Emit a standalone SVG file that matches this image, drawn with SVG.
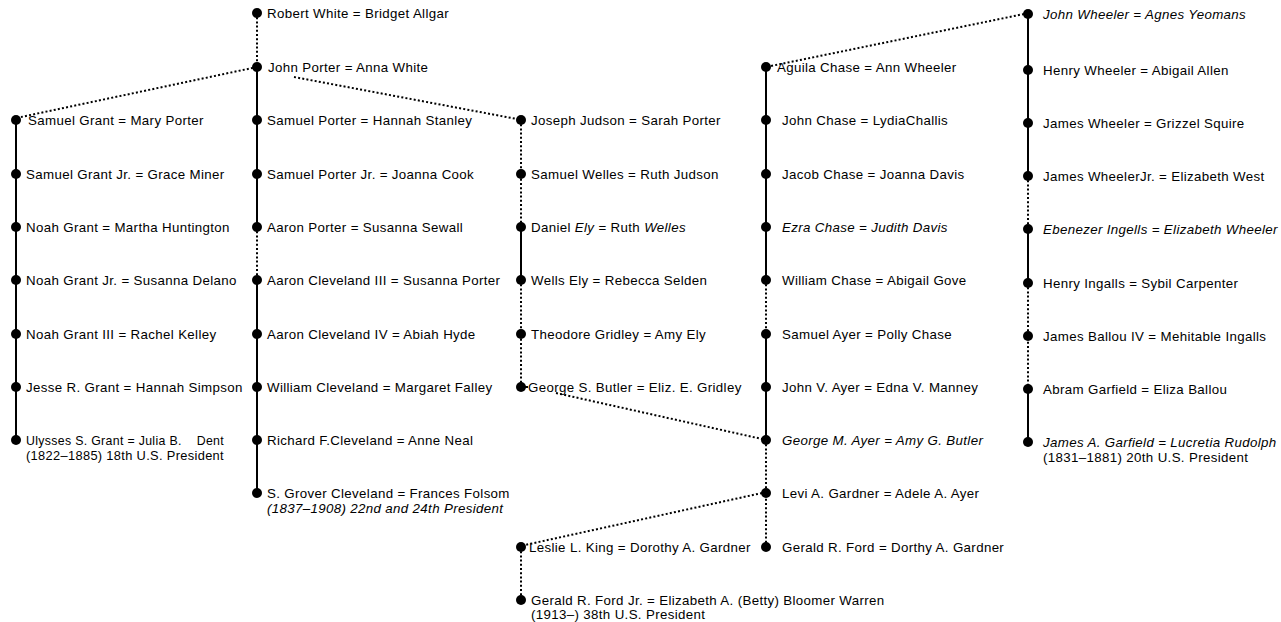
<svg xmlns="http://www.w3.org/2000/svg" width="1281" height="622" viewBox="0 0 1281 622">
  <defs>
    <style>
      .bg { fill: #ffffff; }
      text { font-family: "Liberation Sans", Arial, sans-serif; font-size: 13.3px; fill: #000; letter-spacing: 0.35px; }
      .it { font-style: italic; }
      .dot { fill: #000; }
      .solid { stroke: #000; stroke-width: 2; fill: none; }
      .dotted { stroke: #000; stroke-width: 2; stroke-dasharray: 2 2.2; fill: none; }
    </style>
  </defs>
  <rect class="bg" x="0" y="0" width="1281" height="622"/>

  <!-- connectors: solid = direct line, dotted = link through a daughter -->
  <g id="connectors">
    <!-- Grant line -->
    <line class="solid" x1="16" y1="120" x2="16" y2="440"/>
    <!-- White / Porter / Cleveland line -->
    <line class="dotted" x1="257" y1="13" x2="257" y2="67"/>
    <line class="solid" x1="257" y1="67" x2="257" y2="227"/>
    <line class="dotted" x1="257" y1="227" x2="257" y2="280"/>
    <line class="solid" x1="257" y1="280" x2="257" y2="493"/>
    <!-- Judson / Welles / Ely / Gridley / Butler line -->
    <line class="dotted" x1="521" y1="120" x2="521" y2="227"/>
    <line class="solid" x1="521" y1="227" x2="521" y2="280"/>
    <line class="dotted" x1="521" y1="280" x2="521" y2="387"/>
    <!-- Chase / Ayer / Gardner line -->
    <line class="solid" x1="766" y1="67" x2="766" y2="280"/>
    <line class="dotted" x1="766" y1="280" x2="766" y2="334"/>
    <line class="solid" x1="766" y1="334" x2="766" y2="440"/>
    <line class="dotted" x1="766" y1="440" x2="766" y2="547"/>
    <!-- Wheeler / Ingalls / Ballou / Garfield line -->
    <line class="solid" x1="1028" y1="14" x2="1028" y2="176"/>
    <line class="dotted" x1="1028" y1="176" x2="1028" y2="229"/>
    <line class="solid" x1="1028" y1="229" x2="1028" y2="283"/>
    <line class="dotted" x1="1028" y1="283" x2="1028" y2="389"/>
    <line class="solid" x1="1028" y1="389" x2="1028" y2="442"/>
    <!-- King / Ford line -->
    <line class="dotted" x1="521" y1="547" x2="521" y2="600"/>
    <!-- cross links -->
    <line class="dotted" x1="257" y1="67" x2="21" y2="117"/>
    <line class="dotted" x1="294" y1="77" x2="517" y2="119"/>
    <line class="dotted" x1="556" y1="393" x2="762" y2="439"/>
    <line class="dotted" x1="1024" y1="14" x2="771" y2="66"/>
    <line class="dotted" x1="762" y1="493" x2="525" y2="545"/>
  </g>

  <!-- Grant -->
  <g id="n-samuel-grant"><circle class="dot" cx="16" cy="120" r="5"/><text x="28" y="124.5">Samuel Grant = Mary Porter</text></g>
  <g id="n-samuel-grant-jr"><circle class="dot" cx="16" cy="174" r="5"/><text x="26" y="178.5">Samuel Grant Jr. = Grace Miner</text></g>
  <g id="n-noah-grant"><circle class="dot" cx="16" cy="227" r="5"/><text x="26" y="231.5">Noah Grant = Martha Huntington</text></g>
  <g id="n-noah-grant-jr"><circle class="dot" cx="16" cy="280" r="5"/><text x="26" y="284.5">Noah Grant Jr. = Susanna Delano</text></g>
  <g id="n-noah-grant-iii"><circle class="dot" cx="16" cy="334" r="5"/><text x="26" y="338.5">Noah Grant III = Rachel Kelley</text></g>
  <g id="n-jesse-grant"><circle class="dot" cx="16" cy="387" r="5"/><text x="26" y="391.5">Jesse R. Grant = Hannah Simpson</text></g>
  <g id="n-ulysses-grant"><circle class="dot" cx="16" cy="440" r="5"/><text x="26" y="444.5" xml:space="preserve" textLength="198" lengthAdjust="spacingAndGlyphs">Ulysses S. Grant = Julia B.    Dent</text><text x="26" y="459.5" textLength="198" lengthAdjust="spacingAndGlyphs">(1822–1885) 18th U.S. President</text></g>

  <!-- White / Porter / Cleveland -->
  <g id="n-robert-white"><circle class="dot" cx="257" cy="13" r="5"/><text x="267" y="17.5">Robert White = Bridget Allgar</text></g>
  <g id="n-john-porter"><circle class="dot" cx="257" cy="67" r="5"/><text x="268" y="71.5">John Porter = Anna White</text></g>
  <g id="n-samuel-porter"><circle class="dot" cx="257" cy="120" r="5"/><text x="267" y="124.5">Samuel Porter = Hannah Stanley</text></g>
  <g id="n-samuel-porter-jr"><circle class="dot" cx="257" cy="174" r="5"/><text x="267" y="178.5">Samuel Porter Jr. = Joanna Cook</text></g>
  <g id="n-aaron-porter"><circle class="dot" cx="257" cy="227" r="5"/><text x="267" y="231.5">Aaron Porter = Susanna Sewall</text></g>
  <g id="n-aaron-cleveland-iii"><circle class="dot" cx="257" cy="280" r="5"/><text x="267" y="284.5">Aaron Cleveland III = Susanna Porter</text></g>
  <g id="n-aaron-cleveland-iv"><circle class="dot" cx="257" cy="334" r="5"/><text x="267" y="338.5">Aaron Cleveland IV = Abiah Hyde</text></g>
  <g id="n-william-cleveland"><circle class="dot" cx="257" cy="387" r="5"/><text x="267" y="391.5">William Cleveland = Margaret Falley</text></g>
  <g id="n-richard-cleveland"><circle class="dot" cx="257" cy="440" r="5"/><text x="267" y="444.5">Richard F.Cleveland = Anne Neal</text></g>
  <g id="n-grover-cleveland"><circle class="dot" cx="257" cy="493" r="5"/><text x="267" y="497.5">S. Grover Cleveland = Frances Folsom</text><text class="it" x="267" y="512.5">(1837–1908) 22nd and 24th President</text></g>

  <!-- Judson / Welles / Ely / Gridley / Butler -->
  <g id="n-joseph-judson"><circle class="dot" cx="521" cy="120" r="5"/><text x="531" y="124.5">Joseph Judson = Sarah Porter</text></g>
  <g id="n-samuel-welles"><circle class="dot" cx="521" cy="174" r="5"/><text x="531" y="178.5">Samuel Welles = Ruth Judson</text></g>
  <g id="n-daniel-ely"><circle class="dot" cx="521" cy="227" r="5"/><text x="531" y="231.5">Daniel <tspan class="it">Ely</tspan> = Ruth <tspan class="it">Welles</tspan></text></g>
  <g id="n-wells-ely"><circle class="dot" cx="521" cy="280" r="5"/><text x="531" y="284.5">Wells Ely = Rebecca Selden</text></g>
  <g id="n-theodore-gridley"><circle class="dot" cx="521" cy="334" r="5"/><text x="531" y="338.5">Theodore Gridley = Amy Ely</text></g>
  <g id="n-george-butler"><circle class="dot" cx="521" cy="387" r="5"/><line class="solid" x1="521" y1="387" x2="528" y2="387" stroke-width="1.2"/><text x="528" y="391.5">George S. Butler = Eliz. E. Gridley</text></g>

  <!-- King / Ford -->
  <g id="n-leslie-king"><circle class="dot" cx="521" cy="547" r="5"/><text x="529" y="551.5">Leslie L. King = Dorothy A. Gardner</text></g>
  <g id="n-gerald-ford-jr"><circle class="dot" cx="521" cy="600" r="5"/><text x="531" y="604.5">Gerald R. Ford Jr. = Elizabeth A. (Betty) Bloomer Warren</text><text x="531" y="619">(1913–) 38th U.S. President</text></g>

  <!-- Chase / Ayer / Gardner -->
  <g id="n-aguila-chase"><circle class="dot" cx="766" cy="67" r="5"/><text x="777" y="71.5">Aguila Chase = Ann Wheeler</text></g>
  <g id="n-john-chase"><circle class="dot" cx="766" cy="120" r="5"/><text x="782" y="124.5">John Chase = LydiaChallis</text></g>
  <g id="n-jacob-chase"><circle class="dot" cx="766" cy="174" r="5"/><text x="782" y="178.5">Jacob Chase = Joanna Davis</text></g>
  <g id="n-ezra-chase"><circle class="dot" cx="766" cy="227" r="5"/><text class="it" x="782" y="231.5">Ezra Chase = Judith Davis</text></g>
  <g id="n-william-chase"><circle class="dot" cx="766" cy="280" r="5"/><text x="782" y="284.5">William Chase = Abigail Gove</text></g>
  <g id="n-samuel-ayer"><circle class="dot" cx="766" cy="334" r="5"/><text x="782" y="338.5">Samuel Ayer = Polly Chase</text></g>
  <g id="n-john-ayer"><circle class="dot" cx="766" cy="387" r="5"/><text x="782" y="391.5">John V. Ayer = Edna V. Manney</text></g>
  <g id="n-george-ayer"><circle class="dot" cx="766" cy="440" r="5"/><text class="it" x="782" y="444.5">George M. Ayer = Amy G. Butler</text></g>
  <g id="n-levi-gardner"><circle class="dot" cx="766" cy="493" r="5"/><text x="782" y="497.5">Levi A. Gardner = Adele A. Ayer</text></g>
  <g id="n-gerald-ford"><circle class="dot" cx="766" cy="547" r="5"/><text x="782" y="551.5">Gerald R. Ford = Dorthy A. Gardner</text></g>

  <!-- Wheeler / Ingalls / Ballou / Garfield -->
  <g id="n-john-wheeler"><circle class="dot" cx="1028" cy="14" r="5"/><text class="it" x="1043" y="18.5">John Wheeler = Agnes Yeomans</text></g>
  <g id="n-henry-wheeler"><circle class="dot" cx="1028" cy="70" r="5"/><text x="1043" y="74.5">Henry Wheeler = Abigail Allen</text></g>
  <g id="n-james-wheeler"><circle class="dot" cx="1028" cy="123" r="5"/><text x="1043" y="127.5">James Wheeler = Grizzel Squire</text></g>
  <g id="n-james-wheeler-jr"><circle class="dot" cx="1028" cy="176" r="5"/><text x="1043" y="180.5">James WheelerJr. = Elizabeth West</text></g>
  <g id="n-ebenezer-ingells"><circle class="dot" cx="1028" cy="229" r="5"/><text class="it" x="1043" y="233.5">Ebenezer Ingells = Elizabeth Wheeler</text></g>
  <g id="n-henry-ingalls"><circle class="dot" cx="1028" cy="283" r="5"/><text x="1043" y="287.5">Henry Ingalls = Sybil Carpenter</text></g>
  <g id="n-james-ballou"><circle class="dot" cx="1028" cy="336" r="5"/><text x="1043" y="340.5">James Ballou IV = Mehitable Ingalls</text></g>
  <g id="n-abram-garfield"><circle class="dot" cx="1028" cy="389" r="5"/><text x="1043" y="393.5">Abram Garfield = Eliza Ballou</text></g>
  <g id="n-james-garfield"><circle class="dot" cx="1028" cy="442" r="5"/><text class="it" x="1043" y="446.5">James A. Garfield = Lucretia Rudolph</text><text x="1043" y="461.5">(1831–1881) 20th U.S. President</text></g>
</svg>
